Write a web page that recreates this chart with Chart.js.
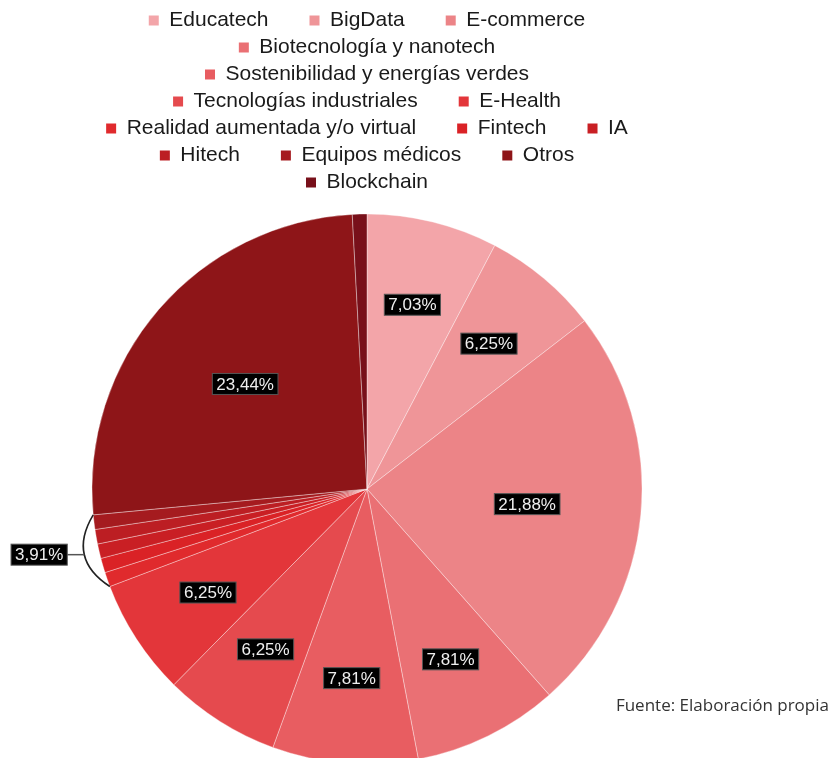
<!DOCTYPE html>
<html lang="es">
<head>
<meta charset="utf-8">
<title>Distribución por sector</title>
<script src="https://cdn.jsdelivr.net/npm/chart.js@4.4.1/dist/chart.umd.min.js"></script>
<style>
  html, body { margin: 0; padding: 0; background: #fff; overflow: hidden; }
  #contenedor { position: relative; width: 831px; height: 775px; }
  #fuente {
    position: absolute; right: 2px; top: 693px;
    font: 17px "Open Sans", sans-serif; color: #333;
  }
</style>
</head>
<body>
<div id="contenedor">
  <canvas id="grafico"></canvas>
  <div id="fuente">Fuente: Elaboración propia</div>
</div>
<script>
const sectores = [
    'Educatech', 'BigData', 'E-commerce', 'Biotecnología y nanotech',
    'Sostenibilidad y energías verdes', 'Tecnologías industriales', 'E-Health',
    'Realidad aumentada y/o virtual', 'Fintech', 'IA', 'Hitech',
    'Equipos médicos', 'Otros', 'Blockchain'
];
const porcentajes = [7.03, 6.25, 21.88, 7.81, 7.81, 6.25, 6.25, 0.78, 0.78, 0.78, 0.78, 0.78, 23.44, 0.78];
const etiquetas = ['7,03%', '6,25%', '21,88%', '7,81%', '7,81%', '6,25%', '6,25%', '', '', '', '', '', '23,44%', ''];
const colores = [
    '#f3a5a9', '#ef9598', '#ec8487', '#ea7074', '#e85d61', '#e54a4e', '#e3363a',
    '#e02a2d', '#da2226', '#c91f24', '#bc1e23', '#a51b1f', '#8e1518', '#78101a'
];
// sectores pequeños que comparten una sola etiqueta
const agrupados = ['Realidad aumentada y/o virtual', 'Fintech', 'IA', 'Hitech', 'Equipos médicos'];
const etiquetaGrupo = '3,91%';

const FUENTE = '"Liberation Sans", Arial, sans-serif';
const HUECO = '      '; // separación extra entre elementos de la leyenda
const ANCHO_LEYENDA = 595;
const CENTRO_X = 367;

function caja(ctx, texto, x, y) {
    const w = ctx.measureText(texto).width + 8;
    const h = 21;
    ctx.fillStyle = '#000';
    ctx.fillRect(x - w / 2, y - h / 2, w, h);
    ctx.strokeStyle = '#555';
    ctx.lineWidth = 1;
    ctx.strokeRect(x - w / 2, y - h / 2, w, h);
    ctx.fillStyle = '#eee';
    ctx.fillText(texto, x, y + 1);
    return w;
}

const etiquetasPlugin = {
    id: 'etiquetas',
    afterDatasetsDraw(chart) {
        const ctx = chart.ctx;
        const arcos = chart.getDatasetMeta(0).data;
        ctx.save();
        ctx.font = '17px ' + FUENTE;
        ctx.textAlign = 'center';
        ctx.textBaseline = 'middle';

        arcos.forEach((arco, i) => {
            if (!etiquetas[i]) return;
            const {x, y, startAngle, endAngle, outerRadius} = arco;
            const medio = (startAngle + endAngle) / 2;
            const r = outerRadius * ((endAngle - startAngle) > Math.PI / 3 ? 0.585 : 0.69);
            caja(ctx, etiquetas[i], x + r * Math.cos(medio), y + r * Math.sin(medio));
        });

        // llave para el grupo de sectores pequeños
        const idx = agrupados.map(n => sectores.indexOf(n));
        const a1 = arcos[idx[0]].startAngle;
        const a2 = arcos[idx[idx.length - 1]].endAngle;
        const {x, y, outerRadius: R} = arcos[idx[0]];
        const am = (a1 + a2) / 2;
        const p0 = {x: x + R * Math.cos(a1), y: y + R * Math.sin(a1)};
        const p2 = {x: x + R * Math.cos(a2), y: y + R * Math.sin(a2)};
        const c = {x: x + R * 1.12 * Math.cos(am), y: y + R * 1.12 * Math.sin(am)};
        const pico = {
            x: 0.25 * p0.x + 0.5 * c.x + 0.25 * p2.x,
            y: 0.25 * p0.y + 0.5 * c.y + 0.25 * p2.y
        };
        ctx.strokeStyle = '#222';
        ctx.lineWidth = 1.6;
        ctx.beginPath();
        ctx.moveTo(p0.x, p0.y);
        ctx.quadraticCurveTo(c.x, c.y, p2.x, p2.y);
        ctx.stroke();

        const w = ctx.measureText(etiquetaGrupo).width + 8;
        const bx = pico.x - 17 - w / 2;
        ctx.strokeStyle = '#555';
        ctx.lineWidth = 1.5;
        ctx.beginPath();
        ctx.moveTo(pico.x, pico.y);
        ctx.lineTo(bx + w / 2, pico.y);
        ctx.stroke();
        caja(ctx, etiquetaGrupo, bx, pico.y);
        ctx.restore();
    }
};

// los espacios finales de las etiquetas desplazan cada fila a la izquierda; se compensa aquí
const ajusteLeyenda = {
    id: 'ajusteLeyenda',
    afterLayout(chart) {
        const ctx = chart.ctx;
        ctx.save();
        ctx.font = '21px ' + FUENTE;
        const d = ctx.measureText(HUECO).width / 2;
        ctx.restore();
        chart.legend.left += d;
        chart.legend.right += d;
    }
};

const generarBase = Chart.overrides.pie.plugins.legend.labels.generateLabels;

new Chart(document.getElementById('grafico'), {
    type: 'pie',
    data: {
        labels: sectores,
        datasets: [{
            data: porcentajes,
            backgroundColor: colores,
            borderColor: 'rgba(255,255,255,0.45)',
            borderWidth: 0.8,
            radius: 275
        }]
    },
    options: {
        responsive: true,
        maintainAspectRatio: false,
        animation: false,
        layout: {
            padding: {
                top: 4,
                bottom: 0,
                left: CENTRO_X - ANCHO_LEYENDA / 2,
                right: 831 - CENTRO_X - ANCHO_LEYENDA / 2
            }
        },
        plugins: {
            legend: {
                position: 'top',
                labels: {
                    boxWidth: 10,
                    boxHeight: 10,
                    padding: 6,
                    color: '#1a1a1a',
                    font: { family: FUENTE, size: 21 },
                    generateLabels(chart) {
                        return generarBase(chart).map(item => {
                            item.text = item.text + HUECO;
                            item.lineWidth = 0;
                            return item;
                        });
                    }
                }
            },
            tooltip: { enabled: false }
        }
    },
    plugins: [etiquetasPlugin, ajusteLeyenda]
});
</script>
</body>
</html>
